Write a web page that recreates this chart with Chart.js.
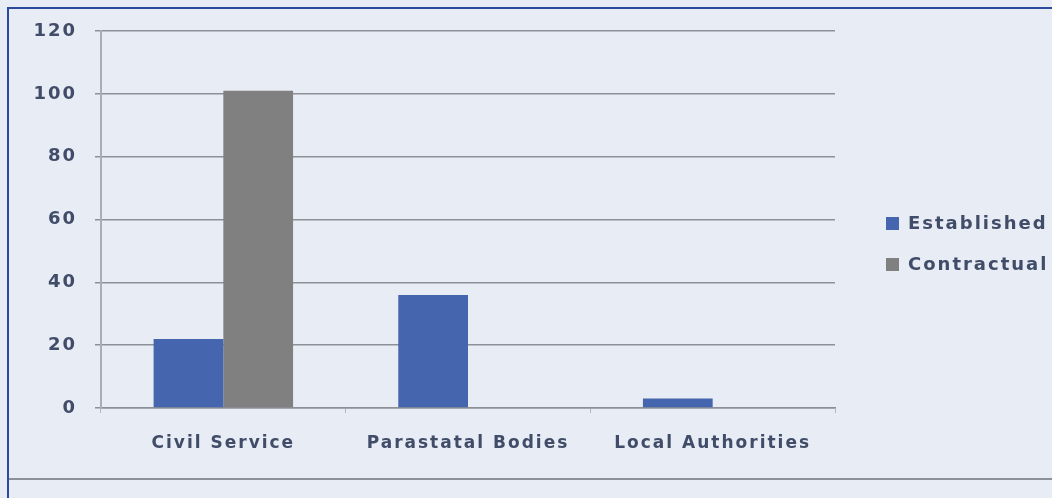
<!DOCTYPE html>
<html>
<head>
<meta charset="utf-8">
<script src="https://cdn.jsdelivr.net/npm/chart.js@4.4.1/dist/chart.umd.min.js"></script>
<style>
  html, body { margin:0; padding:0; }
  body { width:1052px; height:498px; overflow:hidden; background:#e8ecf4; position:relative; font-family:"DejaVu Sans", sans-serif; }
  #frame { position:absolute; left:7px; top:7px; width:1045px; height:491px; border-left:2px solid #2b4a9e; border-top:2px solid #2b4a9e; background:#e7ecf5; }
  #wrap { position:absolute; left:0; top:0; width:1043px; height:468px; }
  #bottomline { position:absolute; left:0; top:469px; width:1043px; height:2px; background:#8d9097; }
  #legend { position:absolute; left:877px; top:203px; color:#404c68; font-size:18px; font-weight:bold; letter-spacing:2px; }
  .item { position:relative; height:41px; line-height:22px; padding-left:22px; white-space:nowrap; }
  .box { position:absolute; left:0; top:5px; width:13px; height:13px; }
</style>
</head>
<body>
<div id="frame">
  <div id="wrap"><canvas id="c"></canvas></div>
  <div id="bottomline"></div>
  <div id="legend"></div>
</div>
<script>
const categories = ['Civil Service', 'Parastatal Bodies', 'Local Authorities'];
const seriesNames = ['Established', 'Contractual'];
const established = [22, 36, 3];
const contractual = [101, 0, 0];
const yMin = 0, yMax = 120, yStep = 20;
const colors = ['#4566ae', '#808080'];

const textColor = '#404c68';
const spacing = '2px';

const spacingPlugin = {
  id: 'spacing',
  beforeLayout(chart) { chart.ctx.letterSpacing = spacing; },
  beforeDraw(chart) { chart.ctx.letterSpacing = spacing; }
};

new Chart(document.getElementById('c'), {
  type: 'bar',
  data: {
    labels: categories,
    datasets: [
      { label: seriesNames[0], data: established, backgroundColor: colors[0], categoryPercentage: 0.57, barPercentage: 1.0 },
      { label: seriesNames[1], data: contractual, backgroundColor: colors[1], categoryPercentage: 0.57, barPercentage: 1.0 }
    ]
  },
  options: {
    responsive: true,
    maintainAspectRatio: false,
    animation: false,
    layout: { padding: { top: 22, right: 217, bottom: 0, left: 0 } },
    plugins: { legend: { display: false }, tooltip: { enabled: false } },
    scales: {
      x: {
        grid: { display: true, drawOnChartArea: false, drawTicks: true, tickLength: 5, color: '#b3b7bf', offset: true },
        border: { display: true, color: '#8d9097', width: 1.5 },
        ticks: { color: textColor, font: { family: 'DejaVu Sans', size: 17, weight: 'bold' }, padding: 20, maxRotation: 0, autoSkip: false },
        afterFit(scale) { scale.height = 69; scale.paddingLeft = 0; scale.paddingRight = 0; }
      },
      y: {
        min: yMin, max: yMax,
        grid: { color: '#8d9097', lineWidth: 1.5, tickLength: 6 },
        border: { display: true, color: '#a9adb5', width: 2 },
        ticks: { stepSize: yStep, color: textColor, font: { family: 'DejaVu Sans', size: 18, weight: 'bold' }, padding: 18 },
        afterFit(scale) { scale.width = 92; scale.paddingTop = 0; scale.paddingBottom = 0; }
      }
    }
  },
  plugins: [spacingPlugin]
});

const legend = document.getElementById('legend');
seriesNames.forEach((name, i) => {
  const item = document.createElement('div');
  item.className = 'item';
  const box = document.createElement('span');
  box.className = 'box';
  box.style.background = colors[i];
  item.appendChild(box);
  item.appendChild(document.createTextNode(name));
  legend.appendChild(item);
});
</script>
</body>
</html>
